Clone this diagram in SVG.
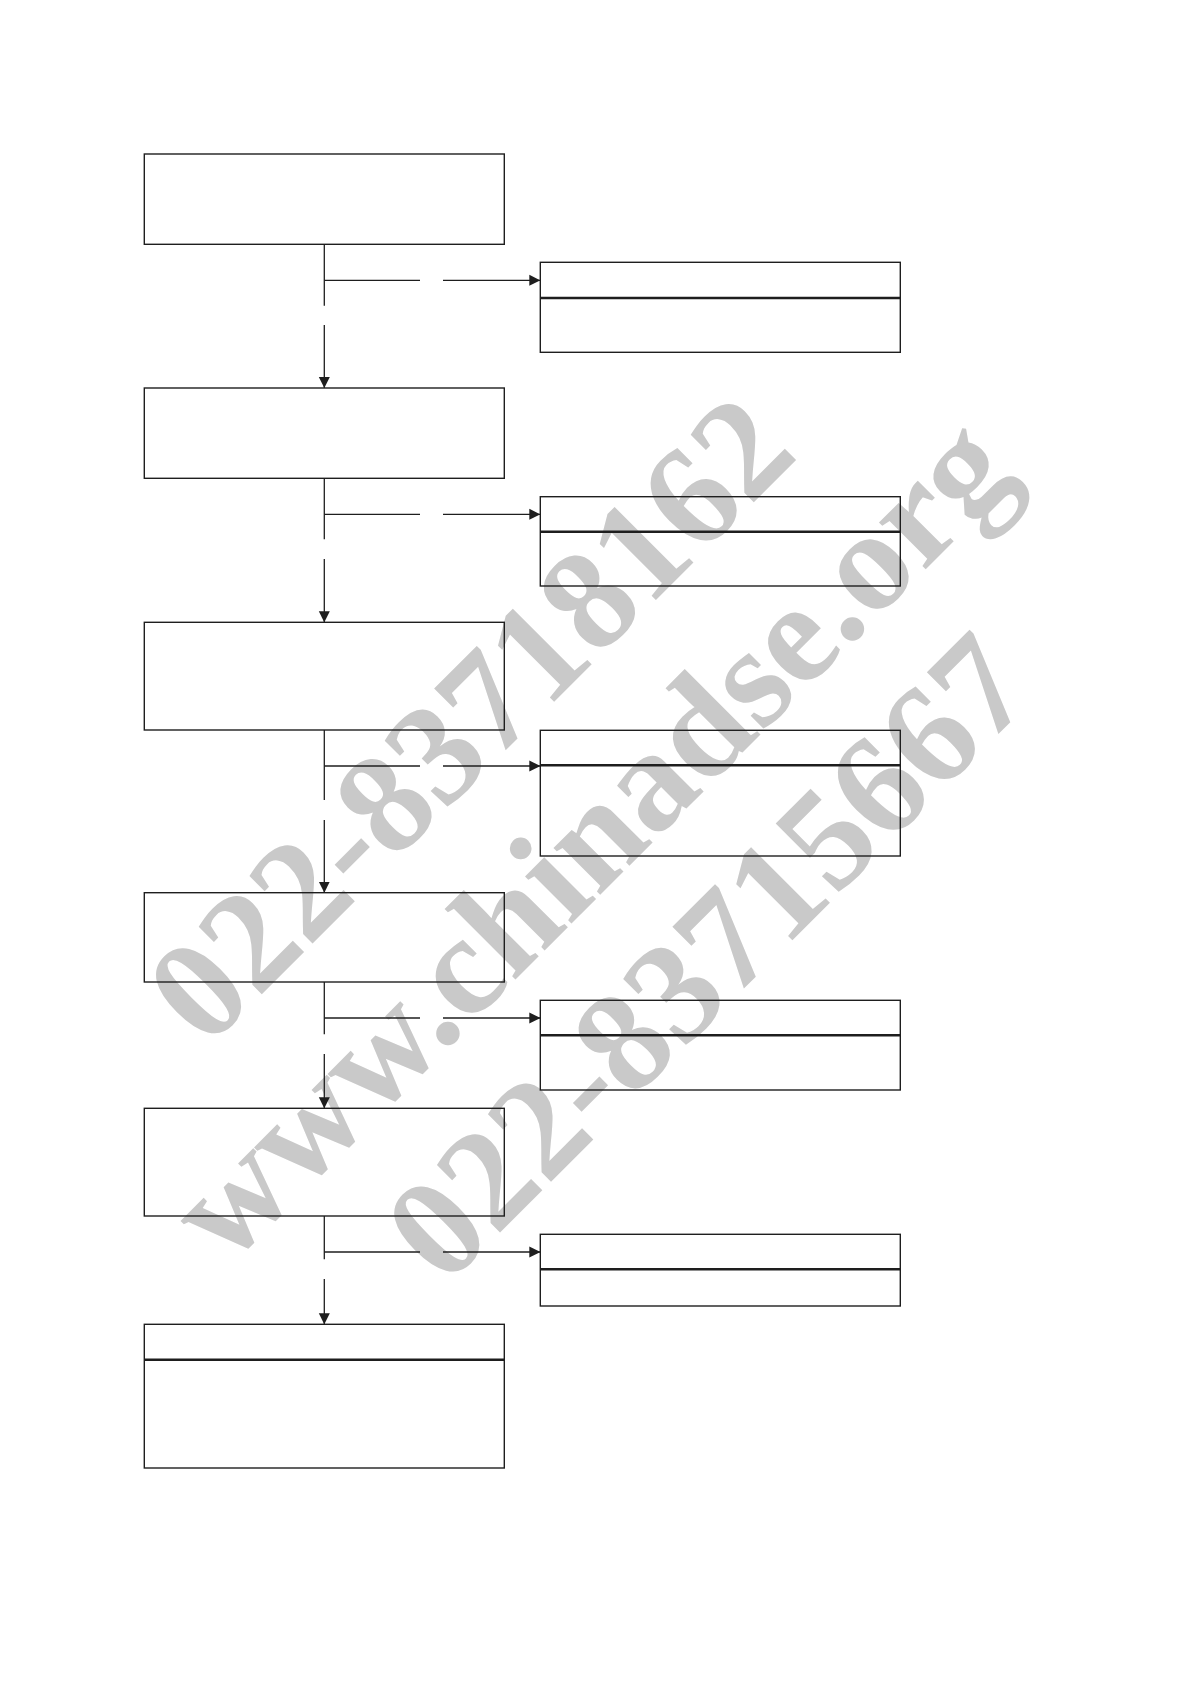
<svg xmlns="http://www.w3.org/2000/svg" width="1190" height="1684" viewBox="0 0 1190 1684">
  <style>
    .box { fill: none; stroke: #1e1e1e; stroke-width: 1.4; }
    .div { stroke: #1e1e1e; stroke-width: 2.4; }
    .conn { fill: none; stroke: #1e1e1e; stroke-width: 1.3; }
    .wm { font-family: "Liberation Serif", "Times New Roman", serif; font-weight: bold; font-size: 144px; fill: #c9c9c9; text-anchor: middle; }
  </style>
  <defs>
    <marker id="arrow" viewBox="0 0 11 12" refX="11" refY="6" markerWidth="11" markerHeight="12" markerUnits="userSpaceOnUse" orient="auto">
      <path d="M0,0.5 L11,6 L0,11.5 Z" fill="#1e1e1e"/>
    </marker>
  </defs>
  <rect x="0" y="0" width="1190" height="1684" fill="#ffffff"/>

  <g id="watermark" transform="translate(623,872) rotate(-45)">
    <text class="wm" x="0" y="-169">022-83718162</text>
    <text class="wm" x="0" y="0">www.chinadse.org</text>
    <text class="wm" x="0" y="168">022-83715667</text>
  </g>

  <g id="step1"><rect class="box" x="144.3" y="154" width="360" height="90.3"/></g>
  <g id="step2"><rect class="box" x="144.3" y="388" width="360" height="90.3"/></g>
  <g id="step3"><rect class="box" x="144.3" y="622.3" width="360" height="107.7"/></g>
  <g id="step4"><rect class="box" x="144.3" y="892.7" width="360" height="89.3"/></g>
  <g id="step5"><rect class="box" x="144.3" y="1108.3" width="360" height="107.7"/></g>
  <g id="step6"><rect class="box" x="144.3" y="1324.3" width="360" height="143.7"/><line class="div" x1="144.3" y1="1359.7" x2="504.3" y2="1359.7"/></g>

  <g id="result1"><rect class="box" x="540.3" y="262.3" width="360" height="90"/><line class="div" x1="540.3" y1="298" x2="900.3" y2="298"/></g>
  <g id="result2"><rect class="box" x="540.3" y="496.7" width="360" height="89.3"/><line class="div" x1="540.3" y1="531.7" x2="900.3" y2="531.7"/></g>
  <g id="result3"><rect class="box" x="540.3" y="730.3" width="360" height="125.7"/><line class="div" x1="540.3" y1="765.3" x2="900.3" y2="765.3"/></g>
  <g id="result4"><rect class="box" x="540.3" y="1000.3" width="360" height="89.7"/><line class="div" x1="540.3" y1="1035.3" x2="900.3" y2="1035.3"/></g>
  <g id="result5"><rect class="box" x="540.3" y="1234.3" width="360" height="71.7"/><line class="div" x1="540.3" y1="1269.3" x2="900.3" y2="1269.3"/></g>

  <g id="connectors">
    <!-- step1 -->
    <path class="conn" d="M324.3,244.3 V305.7"/>
    <path class="conn" d="M324.3,325 V388" marker-end="url(#arrow)"/>
    <path class="conn" d="M324.3,280.3 H420"/>
    <path class="conn" d="M443,280.3 H540.3" marker-end="url(#arrow)"/>
    <!-- step2 -->
    <path class="conn" d="M324.3,478.3 V539.3"/>
    <path class="conn" d="M324.3,559 V622.3" marker-end="url(#arrow)"/>
    <path class="conn" d="M324.3,514.3 H420"/>
    <path class="conn" d="M443,514.3 H540.3" marker-end="url(#arrow)"/>
    <!-- step3 -->
    <path class="conn" d="M324.3,730 V800"/>
    <path class="conn" d="M324.3,820 V892.7" marker-end="url(#arrow)"/>
    <path class="conn" d="M324.3,766 H420"/>
    <path class="conn" d="M443,766 H540.3" marker-end="url(#arrow)"/>
    <!-- step4 -->
    <path class="conn" d="M324.3,982 V1034.3"/>
    <path class="conn" d="M324.3,1054 V1108.3" marker-end="url(#arrow)"/>
    <path class="conn" d="M324.3,1018 H420"/>
    <path class="conn" d="M443,1018 H540.3" marker-end="url(#arrow)"/>
    <!-- step5 -->
    <path class="conn" d="M324.3,1216 V1259.3"/>
    <path class="conn" d="M324.3,1279 V1324.3" marker-end="url(#arrow)"/>
    <path class="conn" d="M324.3,1252 H420"/>
    <path class="conn" d="M443,1252 H540.3" marker-end="url(#arrow)"/>
  </g>
</svg>
